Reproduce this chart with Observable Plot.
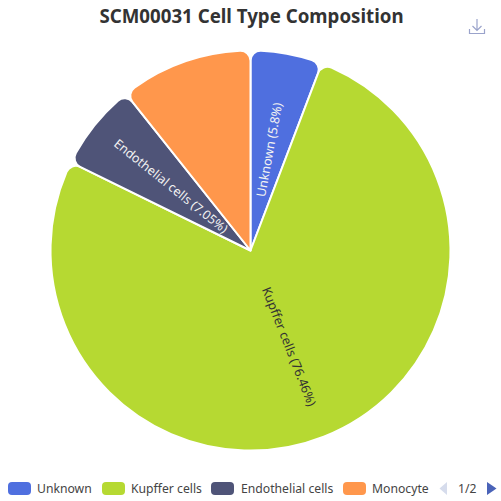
<!DOCTYPE html>
<html>
<head>
<meta charset="utf-8">
<script src="https://cdn.jsdelivr.net/npm/d3@7"></script>
<script src="https://cdn.jsdelivr.net/npm/@observablehq/plot@0.6"></script>
<style>
html,body{margin:0;padding:0;background:#fff}
#page{position:relative;width:501px;height:501px;overflow:hidden;font-family:"Noto Sans",sans-serif;color:#333}
#title{position:absolute;left:0;top:0;width:503px;height:30px;text-align:center;font-size:18.7px;font-weight:700;line-height:31px;color:#333}
#chart{position:absolute;left:0;top:30px}
#chart svg{display:block}
#legend{position:absolute;left:0;top:471px;width:501px;height:30px}
.sw{position:absolute;top:11px;width:23px;height:13px;border-radius:4px}
.lb{position:absolute;top:9px;font-size:12.2px;line-height:18px;color:#444;white-space:nowrap}
#icon{position:absolute;left:467px;top:17px}
#pager{position:absolute;left:0;top:0}
</style>
</head>
<body>
<div id="page">
  <div id="title"></div>
  <div id="chart"></div>
  <svg id="icon" width="20" height="20" viewBox="0 0 20 20" fill="none" stroke="#9aa3cb" stroke-width="1.2">
    <path d="M2.500 12v4.500h15V12M10 2v11M5.500 9l4.500 4.500L14.500 9"/>
  </svg>
  <div id="legend"></div>
</div>
<script>
const titleText = "SCM00031 Cell Type Composition";
const categories = ["Unknown", "Kupffer cells", "Endothelial cells", "Monocyte"];
const shares = [5.8, 76.46, 7.05, 10.69];
const colors = ["#4f6fdf", "#b6d932", "#4f5478", "#ff974c"];
const labelled = [true, true, true, false];
const labelColors = ["#f2f2f2", "#333333", "#f2f2f2", "#333333"];
const legendSwatchX = [8, 102, 211, 343];
const legendTextX = [37, 131, 241, 372];

document.getElementById("title").textContent = titleText;

const arcs = d3.pie().sort(null).value(d => d)(shares);
const slices = categories.map((name, i) => {
  const a0 = arcs[i].startAngle, a1 = arcs[i].endAngle, mid = (a0 + a1) / 2;
  return {
    name, share: shares[i], color: colors[i], a0, a1,
    mx: 0.515 * Math.sin(mid), my: 0.515 * Math.cos(mid),
    rot: (() => { let r = mid * 180 / Math.PI - 90; if (r > 90) r -= 180; return r; })(),
    label: `${name} (${shares[i]}%)`, labelColor: labelColors[i], show: labelled[i]
  };
});

const W = 501, H = 441, R = 200;

const chart = Plot.plot({
  width: W, height: H,
  margin: 0, marginTop: 0, marginBottom: 0, marginLeft: 0, marginRight: 0,
  style: {background: "#fff", fontFamily: '"Noto Sans",sans-serif', overflow: "visible"},
  x: {domain: [-(W / 2) / R, (W / 2) / R], range: [0, W], axis: null},
  y: {domain: [(H / 2) / R, -(H / 2) / R], range: [0, H], axis: null},
  marks: [
    Plot.dot(slices, {
      x: () => 0, y: () => 0, r: 1,
      render(index, scales, values, dims, context) {
        const g = d3.select(context.document.createElementNS("http://www.w3.org/2000/svg", "g"));
        const cx = scales.x(0), cy = scales.y(0);
        const radius = scales.x(1) - cx;
        const arc = d3.arc().innerRadius(0).outerRadius(radius).cornerRadius(10);
        g.attr("transform", `translate(${cx},${cy})`);
        g.selectAll("path").data(slices).join("path")
          .attr("d", d => arc({startAngle: d.a0, endAngle: d.a1}))
          .attr("fill", d => d.color)
          .attr("stroke", "#fff")
          .attr("stroke-width", 2)
          .attr("stroke-linejoin", "round");
        return g.node();
      }
    }),
    Plot.text(slices.filter(d => d.show), {
      x: "mx", y: "my", text: "label", rotate: "rot",
      fill: "labelColor", fontSize: 12.6, textAnchor: "middle", lineAnchor: "middle"
    })
  ]
});
document.getElementById("chart").append(chart);

const legend = document.getElementById("legend");
categories.forEach((name, i) => {
  const s = document.createElement("div");
  s.className = "sw"; s.style.left = legendSwatchX[i] + "px"; s.style.background = colors[i];
  legend.append(s);
  const t = document.createElement("div");
  t.className = "lb"; t.style.left = legendTextX[i] + "px"; t.textContent = name;
  legend.append(t);
});
const pg = document.createElement("div");
pg.className = "lb"; pg.style.left = "458px"; pg.textContent = "1/2";
legend.append(pg);
legend.insertAdjacentHTML("beforeend",
  `<svg id="pager" width="501" height="30"><path d="M447 11L439.500 17.500L447 24Z" fill="#d6dcec"/><path d="M487 11L496.500 17.500L487 24Z" fill="#4a63b8"/></svg>`);
</script>
</body>
</html>
